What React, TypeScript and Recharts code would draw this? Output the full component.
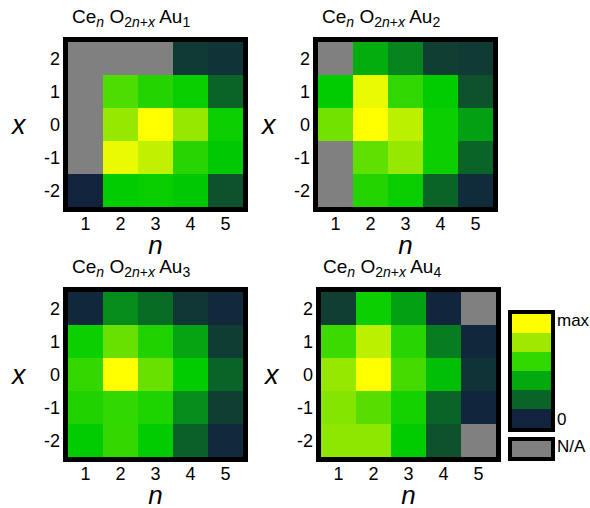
import { ScatterChart, Scatter, XAxis, YAxis } from "recharts";

// rows run x = 2, 1, 0, -1, -2 (top to bottom); columns n = 1..5; null = N/A
const nValues = [1, 2, 3, 4, 5];
const xValues = [2, 1, 0, -1, -2];

const au1 = [
  [null, null, null, 0.12, 0.08],
  [null, 0.72, 0.64, 0.57, 0.3],
  [null, 0.8, 1.0, 0.8, 0.58],
  [null, 0.96, 0.88, 0.65, 0.54],
  [0.0, 0.55, 0.57, 0.54, 0.22],
];
const au2 = [
  [null, 0.48, 0.38, 0.14, 0.12],
  [0.55, 0.96, 0.67, 0.55, 0.22],
  [0.76, 1.0, 0.87, 0.58, 0.45],
  [null, 0.74, 0.8, 0.58, 0.3],
  [null, 0.64, 0.57, 0.3, 0.04],
];
const au3 = [
  [0.02, 0.4, 0.32, 0.1, 0.03],
  [0.58, 0.75, 0.63, 0.46, 0.13],
  [0.68, 1.0, 0.75, 0.55, 0.3],
  [0.63, 0.67, 0.62, 0.4, 0.14],
  [0.55, 0.68, 0.55, 0.28, 0.03],
];
const au4 = [
  [0.14, 0.58, 0.45, 0.01, null],
  [0.7, 0.87, 0.65, 0.36, 0.02],
  [0.8, 1.0, 0.71, 0.52, 0.08],
  [0.78, 0.73, 0.6, 0.3, 0.01],
  [0.79, 0.79, 0.55, 0.22, null],
];

const legendBands = ["#ffff00", "#a0e800", "#30d800", "#02aa10", "#0a6428", "#11233d"];
const NA_COLOR = "#808080";
const FONT = "'Liberation Sans', Arial, sans-serif";

const stops: [number, number[]][] = [
  [0, [17, 35, 61]],
  [0.15, [15, 65, 50]],
  [0.3, [10, 100, 40]],
  [0.45, [4, 160, 20]],
  [0.55, [0, 204, 0]],
  [0.7, [60, 218, 0]],
  [0.8, [150, 232, 0]],
  [1, [255, 255, 0]],
];

const colorFor = (v: number | null) => {
  if (v == null) return NA_COLOR;
  for (let i = 1; i < stops.length; i++) {
    const [t1, c1] = stops[i];
    const [t0, c0] = stops[i - 1];
    if (v <= t1) {
      const f = (v - t0) / (t1 - t0);
      const c = c0.map((a, k) => Math.round(a + (c1[k] - a) * f));
      return `rgb(${c[0]},${c[1]},${c[2]})`;
    }
  }
  return "rgb(255,255,0)";
};

const toCells = (grid: (number | null)[][]) =>
  grid.flatMap((row, r) =>
    row.map((v, c) => ({ n: nValues[c], x: xValues[r], v }))
  );

const CELL_W = 35;
const CELL_H = 33;
const PLOT_W = CELL_W * 5;
const PLOT_H = CELL_H * 5;
const AXIS_W = 68;
const TOP = 42;

const CellShape = (props: any) => {
  const { cx, cy, payload } = props;
  return (
    <rect
      x={cx - CELL_W / 2}
      y={cy - CELL_H / 2}
      width={CELL_W}
      height={CELL_H}
      fill={colorFor(payload.v)}
    />
  );
};

const sub = { fontSize: 14, position: "relative" as const, top: 4 };

const Title = ({ k }: { k: number }) => (
  <div style={{ fontFamily: FONT, fontSize: 19, color: "#000", whiteSpace: "nowrap" }}>
    Ce<span style={{ ...sub, fontStyle: "italic" }}>n</span>{" "}
    O
    <span style={sub}>
      2<i>n</i>+<i>x</i>
    </span>{" "}
    Au<span style={sub}>{k}</span>
  </div>
);

const Panel = ({
  grid,
  k,
  left,
  top,
  titleDx,
}: {
  grid: (number | null)[][];
  k: number;
  left: number;
  top: number;
  titleDx: number;
}) => {
  const data = toCells(grid);
  return (
    <div style={{ position: "absolute", left, top, width: 260, height: 270 }}>
      <ScatterChart
        width={AXIS_W + PLOT_W + 7}
        height={TOP + PLOT_H + 55 + 8}
        margin={{ top: TOP, right: 7, bottom: 8, left: 0 }}
      >
        <XAxis
          type="number"
          dataKey="n"
          domain={[0.5, 5.5]}
          ticks={nValues}
          axisLine={false}
          tickLine={false}
          tickSize={0}
          tickMargin={10}
          height={55}
          tick={{ fontSize: 18, fill: "#000", fontFamily: FONT }}
          label={{
            value: "n",
            position: "insideBottom",
            offset: 8,
            style: { fontSize: 26, fontStyle: "italic", fill: "#000", fontFamily: FONT },
          }}
        />
        <YAxis
          type="number"
          dataKey="x"
          domain={[-2.5, 2.5]}
          ticks={xValues}
          axisLine={false}
          tickLine={false}
          tickSize={0}
          tickMargin={8}
          width={AXIS_W}
          tick={{ fontSize: 18, fill: "#000", fontFamily: FONT }}
          label={{
            value: "x",
            position: "insideLeft",
            offset: 12,
            style: { fontSize: 27, fontStyle: "italic", fill: "#000", fontFamily: FONT },
          }}
        />
        <Scatter data={data} shape={CellShape} isAnimationActive={false} />
      </ScatterChart>
      <div
        style={{
          position: "absolute",
          left: AXIS_W - 5,
          top: TOP - 5,
          width: PLOT_W + 10,
          height: PLOT_H + 10,
          border: "5px solid #000",
          boxSizing: "border-box",
          pointerEvents: "none",
        }}
      />
      <div style={{ position: "absolute", left: titleDx, top: 6 }}>
        <Title k={k} />
      </div>
    </div>
  );
};

const Legend = () => (
  <div style={{ position: "absolute", left: 508, top: 310, fontFamily: FONT, fontSize: 17 }}>
    <div style={{ width: 47, border: "4px solid #000", boxSizing: "border-box" }}>
      {legendBands.map((c) => (
        <div key={c} style={{ height: 19, background: c }} />
      ))}
    </div>
    <div style={{ position: "absolute", left: 49, top: 1 }}>max</div>
    <div style={{ position: "absolute", left: 49, top: 100 }}>0</div>
    <div
      style={{
        marginTop: 5,
        width: 47,
        height: 24,
        border: "4px solid #000",
        boxSizing: "border-box",
        background: NA_COLOR,
      }}
    />
    <div style={{ position: "absolute", left: 49, top: 127 }}>N/A</div>
  </div>
);

export default function App() {
  return (
    <div
      style={{
        position: "absolute",
        left: 0,
        top: 0,
        width: 590,
        height: 508,
        overflow: "hidden",
        background: "#fff",
      }}
    >
      <Panel grid={au1} k={1} left={0} top={0} titleDx={72} />
      <Panel grid={au2} k={2} left={250} top={0} titleDx={72} />
      <Panel grid={au3} k={3} left={0} top={250} titleDx={72} />
      <Panel grid={au4} k={4} left={253} top={250} titleDx={70} />
      <Legend />
    </div>
  );
}
